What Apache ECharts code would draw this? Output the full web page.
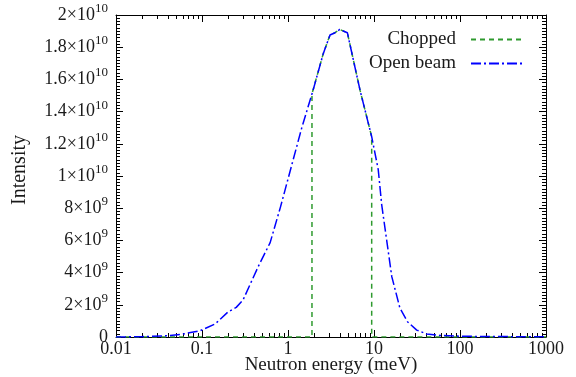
<!DOCTYPE html>
<html>
<head>
<meta charset="utf-8">
<script src="https://cdn.jsdelivr.net/npm/echarts@6/dist/echarts.min.js"></script>
<style>
  html, body { margin: 0; padding: 0; background: #fff; }
  #main { width: 576px; height: 377px; }
</style>
</head>
<body>
<div id="main"></div>
<script>
// neutron energy (meV) and intensity (x1e9)
var openEnergy = [0.01, 0.02, 0.04, 0.058, 0.095, 0.142, 0.2, 0.25, 0.3, 0.45, 0.62, 0.82, 1.44, 1.95, 2.57, 3.08, 3.52, 4.0, 4.9, 6.9, 9.4, 11.2, 12.3, 16.1, 20, 24.5, 31.4, 41, 58, 100, 200, 500, 1000];
var openIntensity = [0, 0.02, 0.08, 0.17, 0.39, 0.81, 1.55, 1.84, 2.3, 4.37, 5.86, 8.1, 12.96, 15.3, 17.6, 18.76, 18.9, 19.1, 18.9, 15.3, 12.44, 10.4, 8.2, 3.75, 1.8, 0.95, 0.43, 0.19, 0.1, 0.05, 0.03, 0.02, 0.01];

var choppedEnergy = [0.01, 1.9, 1.9, 2.57, 3.08, 3.52, 4.0, 4.9, 6.9, 9.4, 9.4, 1000];
var choppedIntensity = [0, 0, 15.1, 17.6, 18.76, 18.9, 19.1, 18.9, 15.3, 12.44, 0, 0];

var xTickLabels = ['0.01', '0.1', '1', '10', '100', '1000'];

function pairs(xs, ys) {
  var out = [];
  for (var i = 0; i < xs.length; i++) out.push([xs[i], ys[i] * 1e9]);
  return out;
}

// log minor tick positions (2..9 per decade) in log10 space
var minorPos = [];
for (var d = -2; d < 3; d++) {
  for (var k = 2; k < 10; k++) minorPos.push(d + Math.log10(k));
}

var font = 'Liberation Serif';
var txt = '#1a1a1a';

var chart = echarts.init(document.getElementById('main'));

function tickAxis(pos) {
  return {
    type: 'value', min: -2, max: 3, position: pos,
    axisLine: { show: false, onZero: false },
    axisTick: { show: true, inside: true, length: 4, customValues: minorPos, lineStyle: { color: '#000' } },
    axisLabel: { show: false },
    splitLine: { show: false }
  };
}

var option = {
  animation: false,
  grid: { left: 116, right: 30, top: 15, bottom: 40, outerBoundsMode: 'none', containLabel: false },
  legend: {
    orient: 'vertical',
    right: 48,
    top: 25,
    align: 'right',
    itemWidth: 51,
    itemHeight: 14,
    itemGap: 5,
    itemStyle: { opacity: 0 },
    textStyle: { fontFamily: font, fontSize: 19, color: txt, padding: [0, 10, 0, 0] },
    data: ['Chopped', 'Open beam']
  },
  xAxis: [
    {
      type: 'log', logBase: 10, min: 0.01, max: 1000, position: 'bottom',
      name: 'Neutron energy (meV)', nameLocation: 'middle', nameGap: 19, nameMoveOverlap: false,
      nameTextStyle: { fontFamily: font, fontSize: 19, color: txt },
      axisLine: { onZero: false, lineStyle: { color: '#000', width: 1 } },
      axisTick: { inside: true, length: 7, lineStyle: { color: '#000' } },
      axisLabel: {
        fontFamily: font, fontSize: 18, color: txt, margin: 3,
        formatter: function (v) {
          var i = Math.round(Math.log10(v)) + 2;
          return xTickLabels[i];
        }
      },
      splitLine: { show: false }
    },
    {
      type: 'log', logBase: 10, min: 0.01, max: 1000, position: 'top',
      axisLine: { onZero: false, lineStyle: { color: '#000', width: 1 } },
      axisTick: { inside: true, length: 7, lineStyle: { color: '#000' } },
      axisLabel: { show: false },
      splitLine: { show: false }
    },
    tickAxis('bottom'),
    tickAxis('top')
  ],
  yAxis: [
    {
      type: 'value', min: 0, max: 2e10, interval: 2e9, position: 'left',
      name: 'Intensity', nameLocation: 'middle', nameGap: 86, nameMoveOverlap: false,
      nameTextStyle: { fontFamily: font, fontSize: 20, color: txt, padding: [0, 0, 0, 12] },
      axisLine: { show: true, onZero: false, lineStyle: { color: '#000', width: 1 } },
      axisTick: { show: true, inside: true, length: 7, lineStyle: { color: '#000' } },
      minorTick: { show: true, splitNumber: 10, length: 4, lineStyle: { color: '#000' } },
      axisLabel: {
        margin: 8,
        fontFamily: font, fontSize: 18, color: txt,
        formatter: function (v) {
          if (v === 0) return '{m|0}';
          var e = Math.floor(Math.log10(v) + 1e-9);
          var m = Math.round(v / Math.pow(10, e) * 10) / 10;
          return '{m|' + m + '×10}{e|' + e + '}';
        },
        rich: {
          m: { fontFamily: font, fontSize: 18, color: txt, verticalAlign: 'bottom', lineHeight: 18 },
          e: { fontFamily: font, fontSize: 13, color: txt, verticalAlign: 'bottom', lineHeight: 13, padding: [0, 0, 9, 0] }
        }
      },
      splitLine: { show: false }
    },
    {
      type: 'value', min: 0, max: 2e10, interval: 2e9, position: 'right',
      axisLine: { show: true, onZero: false, lineStyle: { color: '#000', width: 1 } },
      axisTick: { show: true, inside: true, length: 7, lineStyle: { color: '#000' } },
      minorTick: { show: true, splitNumber: 10, length: 4, lineStyle: { color: '#000' } },
      axisLabel: { show: false },
      splitLine: { show: false }
    }
  ],
  series: [
    {
      name: 'Chopped', type: 'line', xAxisIndex: 0, yAxisIndex: 0,
      symbol: 'none', z: 2,
      data: pairs(choppedEnergy, choppedIntensity),
      lineStyle: { color: '#2e9a2e', width: 1.5, type: [5, 4] },
      itemStyle: { color: '#2e9a2e' }
    },
    {
      name: 'Open beam', type: 'line', xAxisIndex: 0, yAxisIndex: 0,
      symbol: 'none', z: 3,
      data: pairs(openEnergy, openIntensity),
      lineStyle: { color: '#0000ff', width: 1.5, type: [10, 3, 2, 3] },
      itemStyle: { color: '#0000ff' }
    }
  ]
};

chart.setOption(option);
</script>
</body>
</html>
